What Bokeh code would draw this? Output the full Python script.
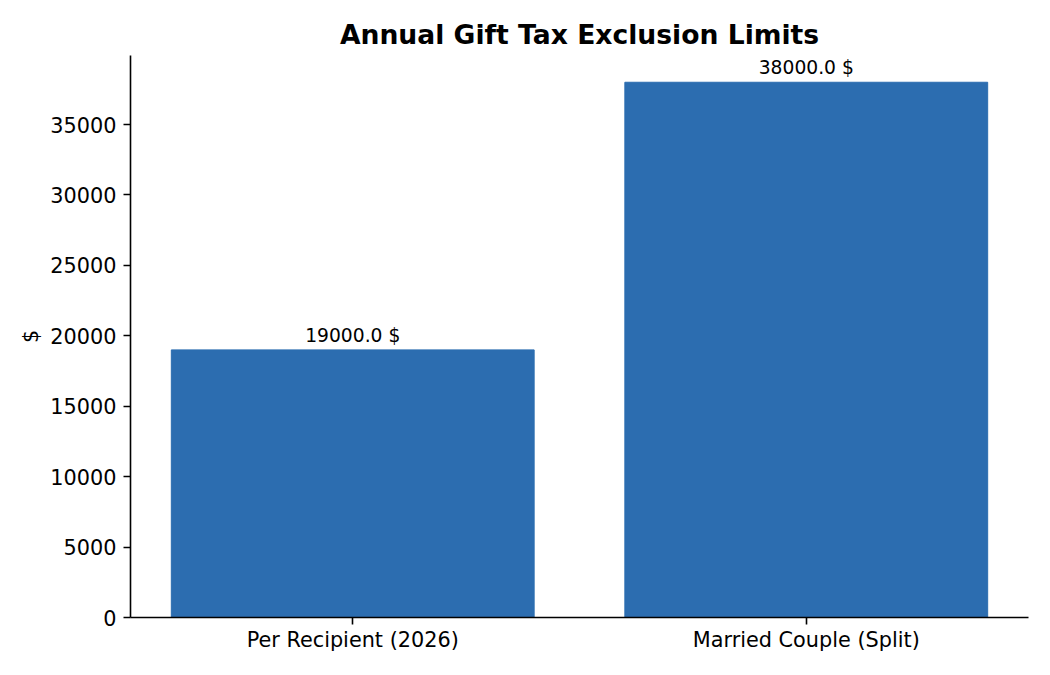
from bokeh.plotting import figure
from bokeh.models import ColumnDataSource, Range1d, FixedTicker
from bokeh.embed import file_html
from bokeh.resources import INLINE
from bokeh.core.properties import value

# chart data
categories = ["Per Recipient (2026)", "Married Couple (Split)"]
amounts = [19000.0, 38000.0]
y_ticks = [0, 5000, 10000, 15000, 20000, 25000, 30000, 35000]

positions = list(range(len(categories)))
labels = [f"{a} $" for a in amounts]

source = ColumnDataSource(data={"x": positions, "top": amounts, "label": labels})

FONT = "DejaVu Sans"

top_val = max(amounts) * 1.05
p = figure(width=1050, height=675, output_backend="svg", toolbar_location=None, tools="",
           x_range=Range1d(-0.49, len(categories) - 1 + 0.49),
           y_range=Range1d(0, top_val),
           title="Annual Gift Tax Exclusion Limits",
           min_border_left=130, min_border_right=22, min_border_top=55, min_border_bottom=58)

p.vbar(x="x", top="top", width=0.8, source=source, color="#2c6db0")
p.text(x="x", y="top", text="label", source=source, text_align="center",
       text_baseline="bottom", y_offset=-4, text_font=value(FONT),
       text_font_size="18.7px", text_color="black")

# title
p.title.text_font = FONT
p.title.text_font_size = "26.6px"
p.title.text_font_style = "bold"
p.title.text_color = "black"
p.title.align = "center"
p.title.standoff = 12

# axes styling
p.outline_line_color = None
p.xgrid.grid_line_color = None
p.ygrid.grid_line_color = None

p.xaxis.ticker = FixedTicker(ticks=positions)
p.xaxis.major_label_overrides = {i: c for i, c in enumerate(categories)}
p.yaxis.ticker = FixedTicker(ticks=y_ticks)
p.yaxis.axis_label = "$"

for ax in (p.xaxis, p.yaxis):
    ax.axis_line_color = "black"
    ax.axis_line_width = 1.6
    ax.major_tick_line_color = "black"
    ax.major_tick_line_width = 1.6
    ax.major_tick_out = 7
    ax.major_tick_in = 0
    ax.minor_tick_line_color = None
    ax.major_label_text_font = FONT
    ax.major_label_text_font_size = "20.8px"
    ax.major_label_text_color = "black"
    ax.major_label_standoff = 7
    ax.axis_label_text_font = FONT
    ax.axis_label_text_font_size = "20.8px"
    ax.axis_label_text_font_style = "normal"
    ax.axis_label_text_color = "black"
    ax.axis_label_standoff = 4

p.xaxis.major_label_standoff = 3

open("out.html", "w").write(file_html(p, INLINE))
